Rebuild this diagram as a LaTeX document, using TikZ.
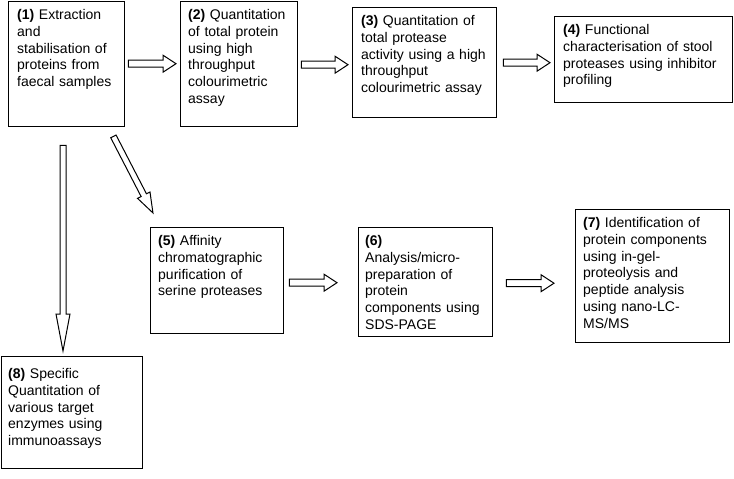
\documentclass[tikz,border=0pt]{standalone}
\usepackage{fontspec}
\setmainfont{Liberation Sans}
\usetikzlibrary{calc}
\tikzset{
  box/.style={draw=black, line width=1.4pt, fill=white, inner sep=0pt, anchor=north west},
  txt/.style={inner sep=0pt, anchor=base west, align=left, font=\fontsize{14}{16.8}\selectfont},
  arrowline/.style={draw=black, line width=1pt, fill=white, line join=miter},
}
% block arrow: #1 start, #2 end, #3 shaft half width, #4 head half width, #5 head length
\newcommand\blockarrow[5]{%
  \path let \p1=(#1), \p2=(#2), \n1={atan2(\y2-\y1,\x2-\x1)}, \n2={veclen(\x2-\x1,\y2-\y1)} in
    \pgfextra{\pgfmathsetmacro\barang{\n1}\pgfmathsetmacro\barlen{\n2}\global\let\barang\barang\global\let\barlen\barlen};
  \begin{scope}[shift={(#1)}, rotate=\barang]
    \draw[arrowline] (0pt,-#3pt) -- ({\barlen pt-#5pt},-#3pt) -- ({\barlen pt-#5pt},-#4pt)
      -- (\barlen pt,0pt) -- ({\barlen pt-#5pt},#4pt) -- ({\barlen pt-#5pt},#3pt) -- (0pt,#3pt) -- cycle;
  \end{scope}}
\begin{document}
\begin{tikzpicture}[x=1pt, y=-1pt]
\useasboundingbox (0,0) rectangle (734,479);
% boxes
\node[box, minimum width=116pt, minimum height=125pt] (b1) at (8,1) {};
\node[box, minimum width=117pt, minimum height=125pt] (b2) at (180,1) {};
\node[box, minimum width=144pt, minimum height=110pt] (b3) at (352,7) {};
\node[box, minimum width=178pt, minimum height=86pt] (b4) at (554,16) {};
\node[box, minimum width=133pt, minimum height=106pt] (b5) at (150,227) {};
\node[box, minimum width=134pt, minimum height=109pt] (b6) at (358,227) {};
\node[box, minimum width=154pt, minimum height=133pt] (b7) at (575,209) {};
\node[box, minimum width=141pt, minimum height=112pt] (b8) at (1,356) {};
% texts
\node[txt, text width=110pt] (t1) at ($(b1.north west)+(9,18.5)$) {\textbf{(1)} Extraction\\and\\stabilisation of\\proteins from\\faecal samples};
\node[txt, text width=112pt] (t2) at ($(b2.north west)+(8,18.5)$) {\textbf{(2)} Quantitation\\of total protein\\using high\\throughput\\colourimetric\\assay};
\node[txt, text width=136pt] (t3) at ($(b3.north west)+(9,18.5)$) {\textbf{(3)} Quantitation of\\total protease\\activity using a high\\throughput\\colourimetric assay};
\node[txt, text width=170pt] (t4) at ($(b4.north west)+(9,18.5)$) {\textbf{(4)} Functional\\characterisation of stool\\proteases using inhibitor\\profiling};
\node[txt, text width=125pt] (t5) at ($(b5.north west)+(8,18.5)$) {\textbf{(5)} Affinity\\chromatographic\\purification of\\serine proteases};
\node[txt, text width=128pt] (t6) at ($(b6.north west)+(7,18.5)$) {\textbf{(6)}\\Analysis/micro-\\preparation of\\protein\\components using\\SDS-PAGE};
\node[txt, text width=146pt] (t7) at ($(b7.north west)+(8,18.5)$) {\textbf{(7)} Identification of\\protein components\\using in-gel-\\proteolysis and\\peptide analysis\\using nano-LC-\\MS/MS};
\node[txt, text width=134pt] (t8) at ($(b8.north west)+(7,22.5)$) {\textbf{(8)} Specific\\Quantitation of\\various target\\enzymes using\\immunoassays};
% arrow end points
\coordinate (a12s) at ($(b1.east)+(3,-0.5)$);
\coordinate (a12e) at ($(a12s -| b2.west)+(-4,0)$);
\coordinate (a23s) at ($(b2.east)+(3,0.5)$);
\coordinate (a23e) at ($(a23s -| b3.west)+(-4,0)$);
\coordinate (a34s) at ($(b3.east)+(6,0)$);
\coordinate (a34e) at ($(a34s -| b4.west)+(-4,0)$);
\coordinate (a56s) at ($(b5.east)+(5,2)$);
\coordinate (a56e) at ($(a56s -| b6.west)+(-21,0)$);
\coordinate (a67s) at ($(b6.east)+(13,1)$);
\coordinate (a67e) at ($(a67s -| b7.west)+(-21,0)$);
\coordinate (a18s) at ($(b1.south west)+(55,18)$);
\coordinate (a18e) at ($(a18s |- b8.north)+(0,-5)$);
\coordinate (a15s) at ($(b1.south east)+(-12,9)$);
\coordinate (a15e) at ($(b5.north west)+(3,-14)$);
% arrows
\blockarrow{a12s}{a12e}{3.5}{8.5}{13}
\blockarrow{a23s}{a23e}{3.5}{8.5}{13}
\blockarrow{a34s}{a34e}{3.5}{8.5}{13}
\blockarrow{a56s}{a56e}{3.5}{8.5}{13}
\blockarrow{a67s}{a67e}{3.5}{8.5}{13}
\blockarrow{a18s}{a18e}{3}{7}{37}
\blockarrow{a15s}{a15e}{3}{7}{20}
\end{tikzpicture}
\end{document}
